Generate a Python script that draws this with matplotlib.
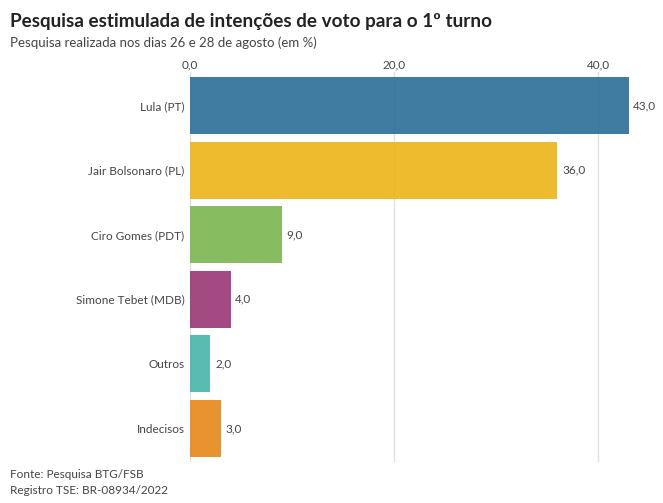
import matplotlib

matplotlib.use("Agg")
import matplotlib.pyplot as plt

plt.rcParams["font.family"] = ["Lato", "DejaVu Sans"]

CANDIDATES = ["Lula (PT)", "Jair Bolsonaro (PL)", "Ciro Gomes (PDT)",
              "Simone Tebet (MDB)", "Outros", "Indecisos"]
VALUES = [43.0, 36.0, 9.0, 4.0, 2.0, 3.0]
COLORS = ["#2f7099", "#edb41c", "#7db752", "#9b3a78", "#4bb5ac", "#e88a1e"]
TICKS = [0, 20, 40]

fig = plt.figure(figsize=(6.63, 5.03), dpi=100)
ax = fig.add_axes([190 / 663, 1 - 462 / 503, 450 / 663, 390 / 503])

ypos = list(range(len(CANDIDATES)))
ax.barh(ypos, VALUES, height=0.88, color=COLORS, alpha=0.92, zorder=2)
for y, v in zip(ypos, VALUES):
    ax.text(v + 0.45, y, ("%.1f" % v).replace(".", ","), va="center",
            ha="left", fontsize=8.5, color="#444444")

ax.set_xlim(0, 44.1)
ax.set_ylim(5.52, -0.52)
ax.set_yticks(ypos)
ax.set_yticklabels(CANDIDATES, fontsize=8.5, color="#444444")
ax.set_xticks(TICKS)
ax.set_xticklabels([("%.1f" % t).replace(".", ",") for t in TICKS],
                   fontsize=8.5, color="#444444")
ax.xaxis.tick_top()
ax.tick_params(axis="y", length=0, pad=4)
ax.tick_params(axis="x", length=0, pad=1)
ax.grid(axis="x", color="#e0e0e0", lw=1, zorder=0)
for s in ax.spines.values():
    s.set_visible(False)

fig.text(10 / 663, 1 - 22 / 503, "Pesquisa estimulada de intenções de voto para o 1º turno",
         fontsize=13.6, fontweight="bold", color="#222222", va="center")
fig.text(10 / 663, 1 - 43 / 503, "Pesquisa realizada nos dias 26 e 28 de agosto (em %)",
         fontsize=9.5, color="#444444", va="center")
fig.text(10 / 663, 1 - 475 / 503, "Fonte: Pesquisa BTG/FSB",
         fontsize=8.5, color="#444444", va="center")
fig.text(10 / 663, 1 - 491 / 503, "Registro TSE: BR-08934/2022",
         fontsize=8.5, color="#444444", va="center")

fig.savefig("out.png", dpi=100)
